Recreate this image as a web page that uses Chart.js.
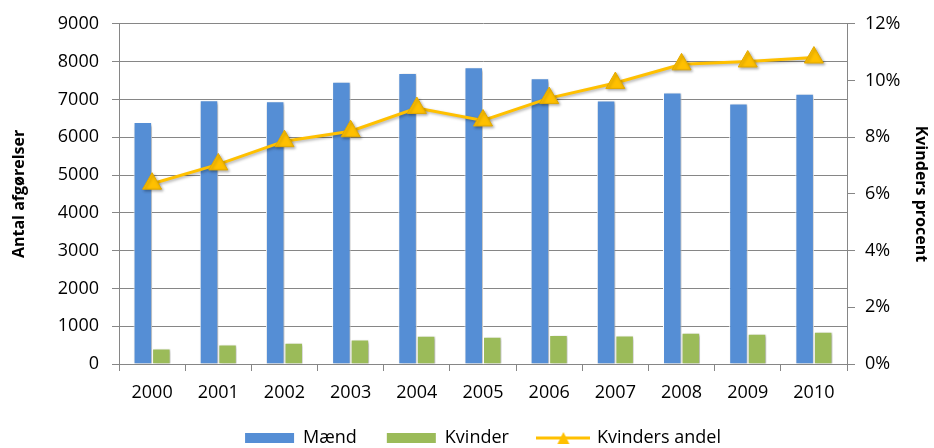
<!DOCTYPE html>
<html>
<head>
<meta charset="utf-8">
<script src="https://cdn.jsdelivr.net/npm/chart.js@4.4.1/dist/chart.umd.min.js"></script>
<style>
  html, body { margin: 0; padding: 0; background: #fff; }
</style>
</head>
<body>
<canvas id="chart" width="934" height="448"></canvas>
<script>
const years = ['2000', '2001', '2002', '2003', '2004', '2005', '2006', '2007', '2008', '2009', '2010'];
const maend = [6400, 6980, 6950, 7470, 7700, 7850, 7560, 6970, 7180, 6890, 7150];
const kvinder = [410, 515, 560, 650, 745, 718, 770, 755, 825, 800, 850];
const kvindersAndel = [6.36, 7.04, 7.86, 8.21, 9.03, 8.59, 9.38, 9.91, 10.57, 10.67, 10.81];
const countTicks = [0, 1000, 2000, 3000, 4000, 5000, 6000, 7000, 8000, 9000];
const pctTicks = [0, 2, 4, 6, 8, 10, 12];

const BLUE = '#558ED5';
const GREEN = '#9BBB59';
const GOLD = '#FFC000';
const GRID = '#868686';

Chart.defaults.font.family = "'Open Sans', sans-serif";
Chart.defaults.color = '#000';

const LEGEND_PAD = 30;

// small picture for the line entry in the legend
function lineLegendImage() {
  const c = document.createElement('canvas');
  c.width = 54;
  c.height = 20;
  const g = c.getContext('2d');
  g.strokeStyle = GOLD;
  g.lineWidth = 3;
  g.beginPath();
  g.moveTo(0, 10);
  g.lineTo(54, 10);
  g.stroke();
  g.fillStyle = GOLD;
  g.beginPath();
  g.moveTo(27, 4);
  g.lineTo(33, 16);
  g.lineTo(21, 16);
  g.closePath();
  g.fill();
  return c;
}
const lineImg = lineLegendImage();

const shadowPlugin = {
  id: 'shadow',
  beforeDatasetDraw(chart) {
    const ctx = chart.ctx;
    ctx.save();
    ctx.shadowColor = 'rgba(0,0,0,0.3)';
    ctx.shadowBlur = 3;
    ctx.shadowOffsetX = 1.5;
    ctx.shadowOffsetY = 1.5;
  },
  afterDatasetDraw(chart) {
    chart.ctx.restore();
  }
};

// legend: centre it under the plot area and put the row at y=438
const legendShift = {
  id: 'legendShift',
  afterLayout(chart) {
    const lg = chart.legend;
    const dx = (chart.chartArea.left + chart.chartArea.right) / 2 - (lg.left + lg.right) / 2;
    lg.left += dx;
    lg.right += dx;
    lg.top = 438 - LEGEND_PAD - 9;
    lg.bottom = chart.height;
    lg.height = lg.bottom - lg.top;
  }
};

new Chart(document.getElementById('chart'), {
  data: {
    labels: years,
    datasets: [
      {
        type: 'bar',
        label: 'Mænd',
        data: maend,
        backgroundColor: BLUE,
        borderColor: '#fff',
        borderWidth: 1,
        yAxisID: 'y',
        order: 1
      },
      {
        type: 'bar',
        label: 'Kvinder',
        data: kvinder,
        backgroundColor: GREEN,
        borderColor: '#fff',
        borderWidth: 1,
        yAxisID: 'y',
        order: 1
      },
      {
        type: 'line',
        label: 'Kvinders andel',
        data: kvindersAndel,
        borderColor: GOLD,
        backgroundColor: GOLD,
        borderWidth: 3,
        tension: 0,
        pointStyle: 'triangle',
        pointRadius: 11,
        pointHoverRadius: 11,
        pointBackgroundColor: GOLD,
        pointBorderColor: '#E3A900',
        pointBorderWidth: 1,
        yAxisID: 'y1',
        order: 0
      }
    ]
  },
  options: {
    responsive: false,
    animation: false,
    categoryPercentage: 0.56,
    barPercentage: 1,
    layout: {
      padding: { top: 22, left: 0, right: 0, bottom: 0 }
    },
    scales: {
      x: {
        grid: {
          drawOnChartArea: false,
          tickLength: 7,
          color: GRID
        },
        border: { color: GRID },
        ticks: {
          font: { size: 18 },
          padding: 11
        },
        afterFit: (s) => { s.height = 64; }
      },
      y: {
        position: 'left',
        min: 0,
        max: 9000,
        afterBuildTicks: (s) => { s.ticks = countTicks.map(v => ({ value: v })); },
        grid: {
          color: GRID,
          tickLength: 7
        },
        border: { color: GRID },
        ticks: {
          font: { size: 18 },
          padding: 13,
          callback: (v) => String(v)
        },
        title: {
          display: true,
          text: 'Antal afgørelser',
          font: { size: 16, weight: 'bold' },
          padding: { top: 10, bottom: 0 }
        },
        afterFit: (s) => { s.width = 119; }
      },
      y1: {
        position: 'right',
        min: 0,
        max: 12,
        afterBuildTicks: (s) => { s.ticks = pctTicks.map(v => ({ value: v })); },
        grid: {
          drawOnChartArea: false,
          color: GRID,
          tickLength: 8
        },
        border: { color: GRID },
        ticks: {
          font: { size: 18 },
          padding: 10,
          callback: (v) => v + '%'
        },
        title: {
          display: true,
          text: 'Kvinders procent',
          font: { size: 16, weight: 'bold' },
          padding: { top: 4, bottom: 0 }
        },
        afterFit: (s) => { s.width = 87; }
      }
    },
    plugins: {
      tooltip: { enabled: false },
      legend: {
        position: 'bottom',
        maxHeight: 20,
        labels: {
          usePointStyle: true,
          pointStyleWidth: 49,
          boxHeight: 10,
          padding: LEGEND_PAD,
          font: { size: 18 },
          generateLabels: (chart) => chart.data.datasets.map((ds, i) => ({
            text: ds.label,
            fillStyle: ds.backgroundColor,
            strokeStyle: ds.backgroundColor,
            lineWidth: 0,
            pointStyle: ds.type === 'line' ? lineImg : 'rect',
            hidden: false,
            fontColor: '#000',
            datasetIndex: i
          }))
        }
      }
    }
  },
  plugins: [shadowPlugin, legendShift]
});
</script>
</body>
</html>
